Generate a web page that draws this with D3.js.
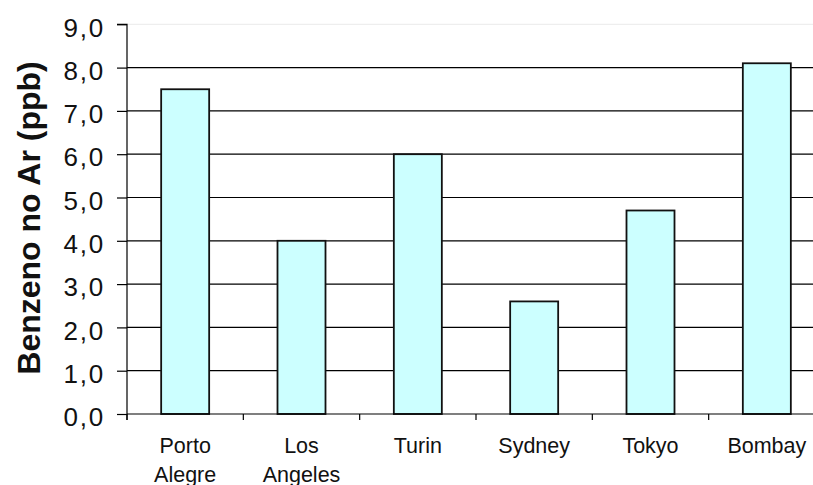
<!DOCTYPE html>
<html>
<head>
<meta charset="utf-8">
<script src="https://cdn.jsdelivr.net/npm/d3@7"></script>
<style>
  html, body { margin: 0; padding: 0; background: #fff; overflow: hidden; }
  svg { display: block; font-family: "Liberation Sans", Arial, sans-serif; }
</style>
</head>
<body>
<svg id="chart" width="813" height="485"></svg>
<script>
// Benzene concentration in air, by city (ppb)
const cities = [["Porto", "Alegre"], ["Los", "Angeles"], ["Turin"], ["Sydney"], ["Tokyo"], ["Bombay"]];
const cityKeys = ["Porto Alegre", "Los Angeles", "Turin", "Sydney", "Tokyo", "Bombay"];
const benzene = [7.5, 4.0, 6.0, 2.6, 4.7, 8.1];
const yTicks = [0, 1, 2, 3, 4, 5, 6, 7, 8, 9];
const yTickLabels = ["0,0", "1,0", "2,0", "3,0", "4,0", "5,0", "6,0", "7,0", "8,0", "9,0"];
const yTitle = "Benzeno no Ar (ppb)";

const svg = d3.select("#chart");
const plotLeft = 127, plotRight = 825, plotTop = 24.3, plotBottom = 414;

const x = d3.scaleBand()
  .domain(cityKeys)
  .range([plotLeft, plotRight])
  .paddingInner(0.5874)
  .paddingOuter(0.2937);

const y = d3.scaleLinear().domain([0, 9]).range([plotBottom, plotTop]);

// horizontal gridlines
svg.append("g")
  .selectAll("line")
  .data(yTicks.filter(d => d > 0))
  .join("line")
  .attr("x1", plotLeft).attr("x2", 813)
  .attr("y1", d => y(d)).attr("y2", d => y(d))
  .attr("stroke", d => d === 9 ? "#eeeeee" : "#000")
  .attr("stroke-width", 1.2);

// bars
svg.append("g")
  .selectAll("rect")
  .data(benzene)
  .join("rect")
  .attr("x", (d, i) => x(cityKeys[i]))
  .attr("width", x.bandwidth())
  .attr("y", d => y(d))
  .attr("height", d => y(0) - y(d))
  .attr("fill", "#ccffff")
  .attr("stroke", "#111")
  .attr("stroke-width", 1.8);

// y axis
const yAxis = d3.axisLeft(y)
  .tickValues(yTicks)
  .tickSize(10)
  .tickPadding(12)
  .tickFormat((d, i) => yTickLabels[i]);

const gy = svg.append("g")
  .attr("transform", `translate(${plotLeft},0)`)
  .call(yAxis);
gy.select(".domain").attr("stroke", "#000").attr("stroke-width", 1.2).attr("d", `M-10,${plotTop}H0V${plotBottom + 6}`);
gy.selectAll(".tick line").attr("stroke", "#000").attr("stroke-width", 1.2);
gy.selectAll(".tick text")
  .attr("font-size", 26)
  .attr("letter-spacing", 1.8)
  .attr("dy", "0.45em")
  .attr("fill", "#111")
  .attr("font-family", "Liberation Sans, Arial, sans-serif");

// x axis line with tick marks on category boundaries
const step = x.step();
const boundaries = d3.range(cityKeys.length + 1).map(i => plotLeft + i * step);
svg.append("line")
  .attr("x1", plotLeft).attr("x2", 813)
  .attr("y1", plotBottom).attr("y2", plotBottom)
  .attr("stroke", "#000").attr("stroke-width", 1.2);
svg.append("g")
  .selectAll("line")
  .data(boundaries)
  .join("line")
  .attr("x1", d => d).attr("x2", d => d)
  .attr("y1", plotBottom).attr("y2", plotBottom + 6)
  .attr("stroke", "#000").attr("stroke-width", 1.2);

// category labels
svg.append("g")
  .selectAll("text")
  .data(cities)
  .join("text")
  .attr("x", (d, i) => x(cityKeys[i]) + x.bandwidth() / 2)
  .attr("y", 453)
  .attr("text-anchor", "middle")
  .attr("font-size", 21.5)
  .attr("fill", "#111")
  .selectAll("tspan")
  .data(d => d)
  .join("tspan")
  .attr("x", function () { return d3.select(this.parentNode).attr("x"); })
  .attr("dy", (d, i) => i === 0 ? 0 : 28.5)
  .text(d => d);

// y axis title
svg.append("text")
  .attr("transform", `translate(40,218) rotate(-90)`)
  .attr("text-anchor", "middle")
  .attr("font-size", 32)
  .attr("font-weight", "bold")
  .attr("fill", "#111")
  .text(yTitle);
</script>
</body>
</html>
